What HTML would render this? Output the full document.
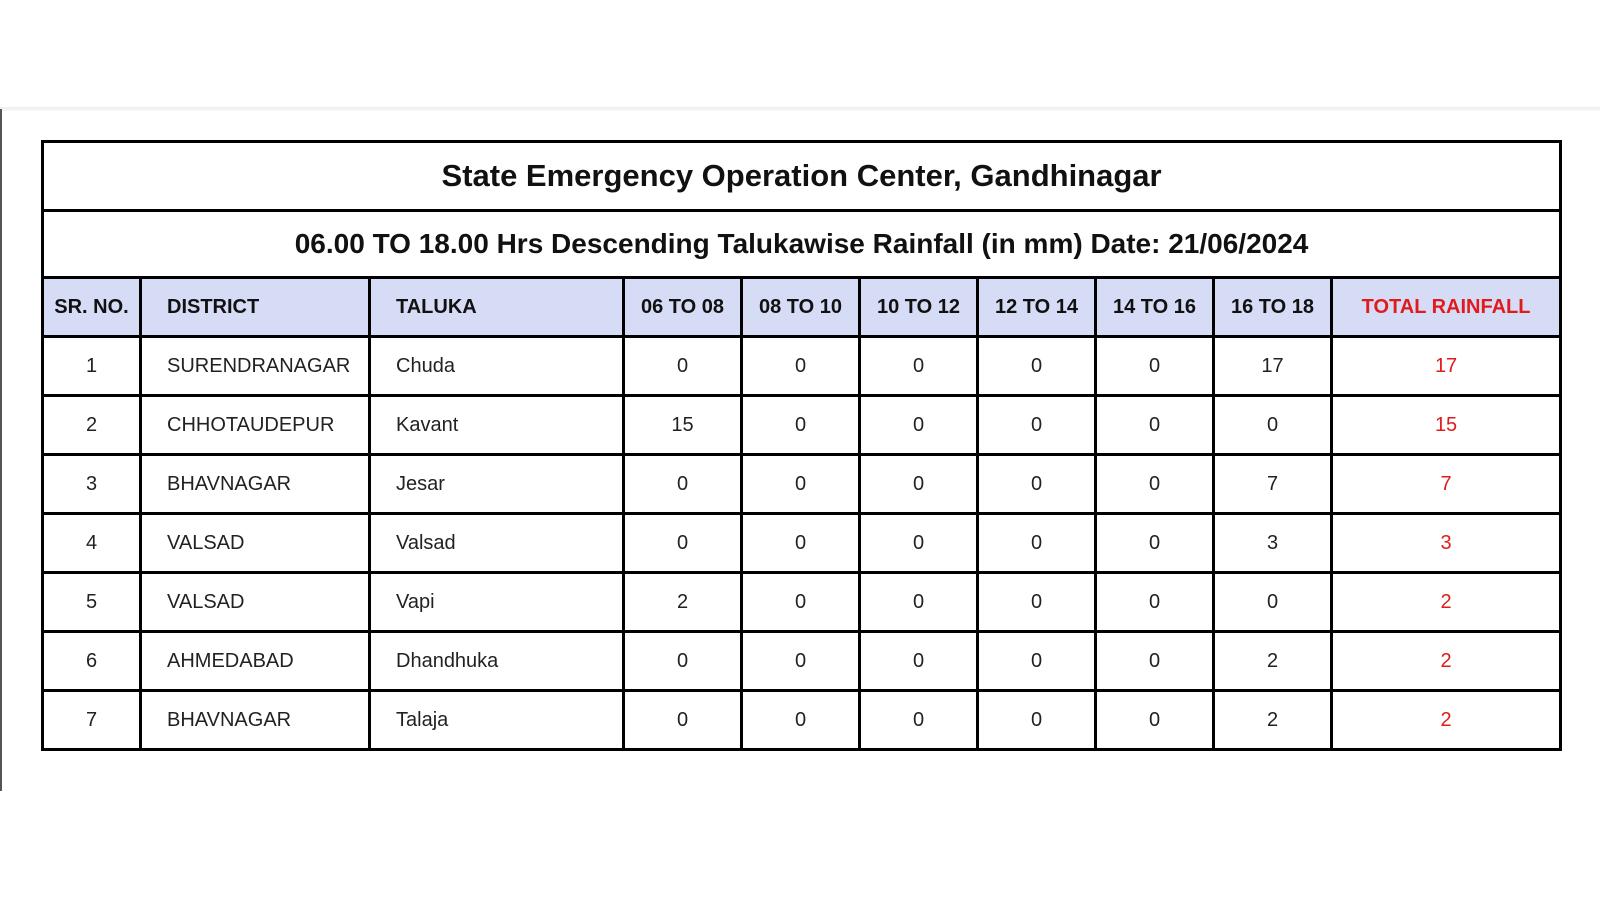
<!DOCTYPE html>
<html><head><meta charset="utf-8"><style>
body{margin:0;width:1600px;height:900px;background:#fff;position:relative;overflow:hidden;font-family:"Liberation Sans",sans-serif}
#topline{position:absolute;left:0;top:107px;width:1600px;height:4px;background:linear-gradient(#eee,#f8f8f8)}
#leftline{position:absolute;left:0;top:109px;width:2px;height:682px;background:#555}
table{position:absolute;left:41px;top:140px;border-collapse:collapse;table-layout:fixed;width:1518px}
td,th{border:3px solid #000;padding:0;font-size:20px;color:#222}
.t1{height:66px;font-size:31px;font-weight:bold;text-align:center;color:#111}
.t2{height:64px;font-size:28px;font-weight:bold;text-align:center;color:#111}
.hd th{height:56px;background:#d7dcf6;font-weight:bold;font-size:20px;color:#111;text-align:center}
.hd th.l{text-align:left;padding-left:25px}
tbody.rows td{height:56px;text-align:center}
tbody.rows td.l{text-align:left;padding-left:25px}
.red{color:#e01b1b!important}
</style></head><body>
<div id="topline"></div>
<div id="leftline"></div>
<table>
<colgroup><col style="width:98px"><col style="width:229px"><col style="width:254px"><col style="width:118px"><col style="width:118px"><col style="width:118px"><col style="width:118px"><col style="width:118px"><col style="width:118px"><col style="width:229px"></colgroup>
<tr><td colspan="10" class="t1">State Emergency Operation Center, Gandhinagar</td></tr>
<tr><td colspan="10" class="t2">06.00 TO 18.00 Hrs Descending Talukawise Rainfall (in mm) Date: 21/06/2024</td></tr>
<tr class="hd">
<th>SR. NO.</th>
<th class="l">DISTRICT</th>
<th class="l">TALUKA</th>
<th>06 TO 08</th>
<th>08 TO 10</th>
<th>10 TO 12</th>
<th>12 TO 14</th>
<th>14 TO 16</th>
<th>16 TO 18</th>
<th class="red">TOTAL RAINFALL</th>
</tr>
<tbody class="rows" id="body"></tbody>
</table>
<script>
const districts=["SURENDRANAGAR","CHHOTAUDEPUR","BHAVNAGAR","VALSAD","VALSAD","AHMEDABAD","BHAVNAGAR"];
const talukas=["Chuda","Kavant","Jesar","Valsad","Vapi","Dhandhuka","Talaja"];
const s0608=[0,15,0,0,2,0,0];
const s0810=[0,0,0,0,0,0,0];
const s1012=[0,0,0,0,0,0,0];
const s1214=[0,0,0,0,0,0,0];
const s1416=[0,0,0,0,0,0,0];
const s1618=[17,0,7,3,0,2,2];
const totals=[17,15,7,3,2,2,2];
const tb=document.getElementById('body');
districts.forEach((d,i)=>{
  const tr=document.createElement('tr');
  
  
  const vals=[i+1,d,talukas[i],s0608[i],s0810[i],s1012[i],s1214[i],s1416[i],s1618[i],totals[i]];
  const names=['sr-no','district','taluka','06-08','08-10','10-12','12-14','14-16','16-18','total'];
  vals.forEach((v,j)=>{
    const td=document.createElement('td');
    td.textContent=v;
    if(j==1||j==2)td.className='l';
    if(j==9)td.className='red';
    
    
    tr.appendChild(td);
  });
  tb.appendChild(tr);
});
</script>
</body></html>
